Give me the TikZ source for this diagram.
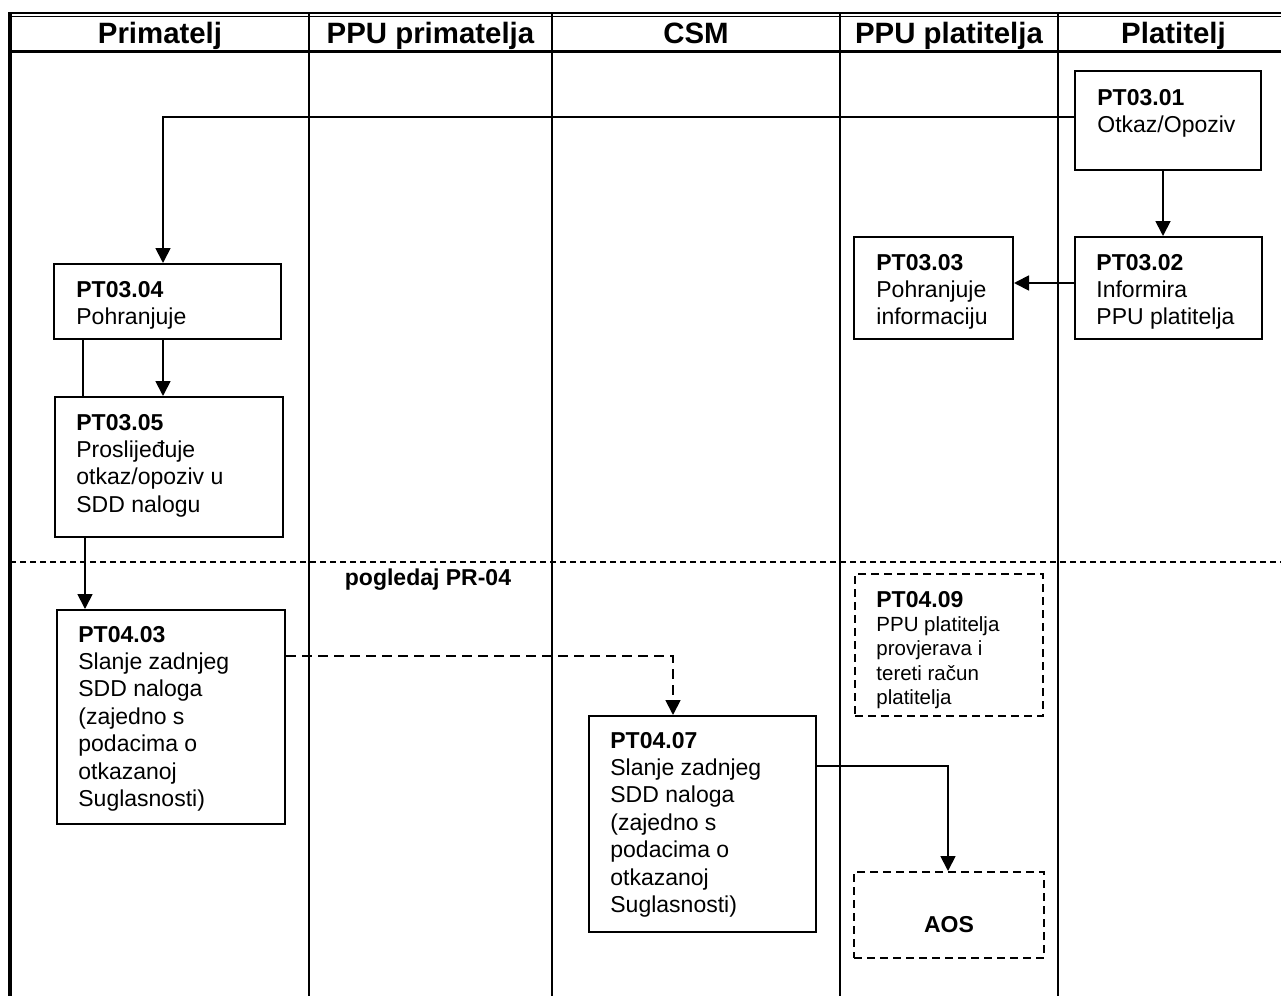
\documentclass[tikz,border=0pt]{standalone}
\usepackage{fontspec}
\setmainfont{Liberation Sans}
\usetikzlibrary{arrows.meta}
\newcommand\lanestack[1]{\vtop{\halign{##\hfil\cr#1\crcr}}}
\begin{document}
\begin{tikzpicture}[x=0.5pt,y=-0.5pt,
  box/.style={draw, line width=1pt, inner sep=0pt, rectangle},
  dbox/.style={box, dash pattern=on 4pt off 2.5pt},
  lbl/.style={anchor=base west, inner sep=0pt, font=\fontsize{11.5}{13.7}\selectfont},
  conn/.style={line width=0.9pt},
  arr/.style={conn, -{Triangle[length=7.5pt,width=7.5pt]}},
  dconn/.style={arr, dash pattern=on 5pt off 3pt},
  head/.style={font=\bfseries\fontsize{14.7}{16}\selectfont, inner sep=0pt, anchor=base},
  sep/.style={line width=1pt}
]
\useasboundingbox (0,0) rectangle (1281,996);

% frame and lanes
\draw[line width=1.2pt] (9,12.7) -- (1281,12.7);
\draw[line width=0.6pt] (9,16.3) -- (1281,16.3);
\draw[line width=1.6pt] (10,12) -- (10,996);
\draw[line width=1.5pt] (10,51.5) -- (1281,51.5);
\foreach \xx in {309,552,840,1058} \draw[sep] (\xx,13) -- (\xx,996);
\draw[line width=1pt, dash pattern=on 3pt off 2pt] (10,562) -- (1281,562);

% headers
\node[head] (h1) at (160,43) {Primatelj};
\node[head] (h2) at (430.5,43) {PPU primatelja};
\node[head] (h3) at (696,43) {CSM};
\node[head] (h4) at (949,43) {PPU platitelja};
\node[head] (h5) at (1173.5,43) {Platitelj};

% boxes
\node[box, minimum width=93pt, minimum height=49.5pt] (b0301) at (1168,120.5) {};
\node[box, minimum width=93.5pt, minimum height=51pt] (b0302) at (1168.5,288) {};
\node[box, minimum width=79.5pt, minimum height=51pt] (b0303) at (933.5,288) {};
\node[box, minimum width=113.5pt, minimum height=37.5pt] (b0304) at (167.5,301.5) {};
\node[box, minimum width=114pt, minimum height=70pt] (b0305) at (169,467) {};
\node[box, minimum width=114pt, minimum height=107pt] (b0403) at (171,717) {};
\node[box, minimum width=113.5pt, minimum height=108pt] (b0407) at (702.5,824) {};
\node[dbox, minimum width=94pt, minimum height=71pt] (b0409) at (949,645) {};
\node[dbox, minimum width=95pt, minimum height=43pt] (aos) at (949,915) {};

% texts
\node[lbl] (t0301) at (1097,105) {\lanestack{\textbf{PT03.01}\cr Otkaz/Opoziv}};
\node[lbl] (t0302) at (1096,270) {\lanestack{\textbf{PT03.02}\cr Informira\cr PPU platitelja}};
\node[lbl] (t0303) at (876,270) {\lanestack{\textbf{PT03.03}\cr Pohranjuje\cr informaciju}};
\node[lbl] (t0304) at (76,297) {\lanestack{\textbf{PT03.04}\cr Pohranjuje}};
\node[lbl] (t0305) at (76,430) {\lanestack{\textbf{PT03.05}\cr Proslijeđuje\cr otkaz/opoziv u\cr SDD nalogu}};
\node[lbl] (t0403) at (78,642) {\lanestack{\textbf{PT04.03}\cr Slanje zadnjeg\cr SDD naloga\cr (zajedno s\cr podacima o\cr otkazanoj\cr Suglasnosti)}};
\node[lbl] (t0407) at (610,748) {\lanestack{\textbf{PT04.07}\cr Slanje zadnjeg\cr SDD naloga\cr (zajedno s\cr podacima o\cr otkazanoj\cr Suglasnosti)}};
\node[lbl, font=\fontsize{10.25}{12.2}\selectfont] (t0409) at (876,607) {\lanestack{\textbf{\fontsize{11.5}{12.2}\selectfont PT04.09}\cr PPU platitelja\cr provjerava i\cr tereti račun\cr platitelja}};
\node[inner sep=0pt, anchor=base, font=\bfseries\fontsize{11.5}{13.7}\selectfont] (aostxt) at (949,932) {AOS};
\node[inner sep=0pt, anchor=base, font=\bfseries\fontsize{11.5}{13.7}\selectfont] (pog) at (428,585) {pogledaj PR-04};

% connectors
\coordinate (k1) at (163,117);
\coordinate (k2) at (1163,0);
\coordinate (k3) at (0,283);
\coordinate (k5) at (83,0);
\coordinate (k6) at (85,0);
\coordinate (k7) at (673,656);
\coordinate (k8) at (948,766);
\draw[arr] (k1 -| b0301.west) -| (b0304.north -| k1);
\draw[arr] (b0301.south -| k2) -- (b0302.north -| k2);
\draw[arr] (b0302.west |- k3) -- (b0303.east |- k3);
\draw[arr] (b0304.south -| k1) -- (b0305.north -| k1);
\draw[conn] (b0304.south -| k5) -- (b0305.north -| k5);
\draw[arr] (b0305.south -| k6) -- (b0403.north -| k6);
\draw[dconn] (k7 -| b0403.east) -| (b0407.north -| k7);
\draw[arr] (k8 -| b0407.east) -| (aos.north -| k8);
\end{tikzpicture}
\end{document}
